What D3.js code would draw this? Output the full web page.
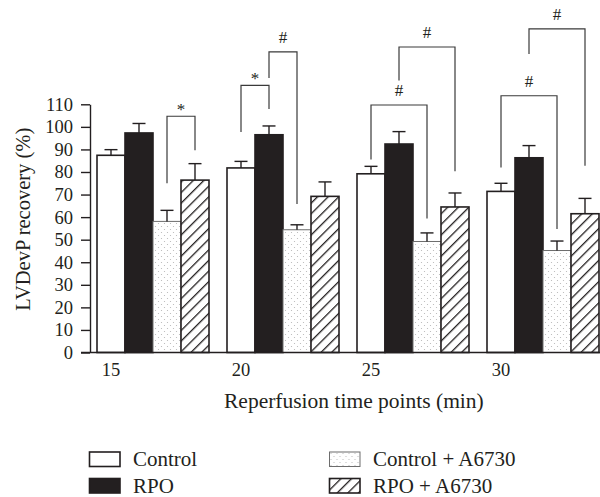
<!DOCTYPE html>
<html>
<head>
<meta charset="utf-8">
<script src="https://cdn.jsdelivr.net/npm/d3@7"></script>
<style>
  body { margin: 0; background: #fff; }
  svg { display: block; font-family: "Liberation Serif", "DejaVu Serif", serif; }
</style>
</head>
<body>
<div id="chart"></div>
<script>
// time points (min) and series
const timePoints = ["15", "20", "25", "30"];
const seriesNames = ["Control", "RPO", "Control + A6730", "RPO + A6730"];

// LVDevP recovery (%), mean and upper error (SEM)
const controlVals = [87.4, 81.8, 79.2, 71.4];
const rpoVals = [97.3, 96.5, 92.4, 86.3];
const controlA6730Vals = [58.1, 54.4, 49.2, 45.2];
const rpoA6730Vals = [76.4, 69.2, 64.5, 61.5];

const controlErr = [2.5, 2.9, 3.3, 3.6];
const rpoErr = [4.2, 3.9, 5.5, 5.4];
const controlA6730Err = [4.9, 2.2, 3.8, 4.2];
const rpoA6730Err = [7.3, 6.4, 6.2, 6.8];

const yTicks = [0, 10, 20, 30, 40, 50, 60, 70, 80, 90, 100, 110];

// significance brackets: time point, from series, to series, top, left leg end, right leg end (in % units)
const brackets = [
  { t: "15", a: 2, b: 3, top: 104.7, endA: 75.0, endB: 89.6, label: "*" },
  { t: "20", a: 0, b: 1, top: 118.4, endA: 97.7, endB: 107.9, label: "*" },
  { t: "20", a: 1, b: 2, top: 133.2, endA: 121.7, endB: 65.8, label: "#" },
  { t: "25", a: 0, b: 2, top: 109.7, endA: 85.5, endB: 59.4, label: "#" },
  { t: "25", a: 1, b: 3, top: 135.4, endA: 120.5, endB: 80.3, label: "#" },
  { t: "30", a: 0, b: 2, top: 113.8, endA: 82.0, endB: 54.7, label: "#" },
  { t: "30", a: 1, b: 3, top: 143.4, endA: 132.3, endB: 82.8, label: "#" }
];

const allVals = [controlVals, rpoVals, controlA6730Vals, rpoA6730Vals];
const allErr = [controlErr, rpoErr, controlA6730Err, rpoA6730Err];

const ink = "#231f20";
const fills = ["#fff", ink, "url(#dots)", "url(#hatch)"];
const strokes = [ink, ink, "#6d6d6d", ink];

const W = 600, H = 497;

const svg = d3.select("#chart")
  .append("svg")
  .attr("width", W)
  .attr("height", H);

// patterns
const defs = svg.append("defs");
const dots = defs.append("pattern")
  .attr("id", "dots")
  .attr("patternUnits", "userSpaceOnUse")
  .attr("width", 6)
  .attr("height", 6);
dots.append("rect").attr("width", 6).attr("height", 6).attr("fill", "#fff");
dots.append("circle").attr("cx", 1.5).attr("cy", 1.5).attr("r", 0.6).attr("fill", "#b5b5b5");
dots.append("circle").attr("cx", 4.5).attr("cy", 4.5).attr("r", 0.6).attr("fill", "#b5b5b5");

const hatch = defs.append("pattern")
  .attr("id", "hatch")
  .attr("patternUnits", "userSpaceOnUse")
  .attr("width", 7.5)
  .attr("height", 7.5)
  .attr("patternTransform", "rotate(45)");
hatch.append("rect").attr("width", 7.5).attr("height", 7.5).attr("fill", "#fff");
hatch.append("line")
  .attr("x1", 0).attr("y1", 0).attr("x2", 0).attr("y2", 7.5)
  .attr("stroke", ink).attr("stroke-width", 2.6);

// scales
const x0 = d3.scaleBand()
  .domain(timePoints)
  .range([97, 599])
  .paddingInner(18 / 130)
  .paddingOuter(0);

const x1 = d3.scaleBand()
  .domain(d3.range(seriesNames.length))
  .range([0, x0.bandwidth()]);

const y = d3.scaleLinear()
  .domain([0, 110])
  .range([352.5, 104.3]);

// y axis
const yAxis = svg.append("g")
  .attr("transform", "translate(90,0)")
  .call(d3.axisLeft(y).tickValues(yTicks).tickSize(9).tickPadding(8).tickSizeOuter(0));
yAxis.select(".domain").attr("stroke", ink).attr("stroke-width", 1.4);
yAxis.selectAll(".tick line").attr("stroke", ink).attr("stroke-width", 1.4);
yAxis.selectAll(".tick text")
  .attr("fill", ink)
  .style("font-family", "'Liberation Serif', serif")
  .style("font-size", "18.5px");

// bars
const groups = svg.append("g")
  .selectAll("g")
  .data(timePoints)
  .join("g")
  .attr("transform", d => `translate(${x0(d)},0)`);

groups.selectAll("rect")
  .data((t, i) => allVals.map((v, s) => ({ s, v: v[i], e: allErr[s][i] })))
  .join("rect")
  .attr("x", d => x1(d.s))
  .attr("y", d => y(d.v))
  .attr("width", x1.bandwidth())
  .attr("height", d => y(0) - y(d.v))
  .attr("fill", d => fills[d.s])
  .attr("stroke", d => strokes[d.s])
  .attr("stroke-width", d => d.s === 2 ? 1 : 1.6);

// error bars (upper only)
const errs = groups.selectAll("g.err")
  .data((t, i) => allVals.map((v, s) => ({ s, v: v[i], e: allErr[s][i] })))
  .join("g")
  .attr("class", "err")
  .attr("stroke", ink)
  .attr("stroke-width", 1.4);
errs.append("line")
  .attr("x1", d => x1(d.s) + x1.bandwidth() / 2)
  .attr("x2", d => x1(d.s) + x1.bandwidth() / 2)
  .attr("y1", d => y(d.v))
  .attr("y2", d => y(d.v + d.e));
errs.append("line")
  .attr("x1", d => x1(d.s) + x1.bandwidth() / 2 - 6.5)
  .attr("x2", d => x1(d.s) + x1.bandwidth() / 2 + 6.5)
  .attr("y1", d => y(d.v + d.e))
  .attr("y2", d => y(d.v + d.e));

// x axis line
svg.append("line")
  .attr("x1", 81).attr("x2", W)
  .attr("y1", y(0)).attr("y2", y(0))
  .attr("stroke", ink).attr("stroke-width", 1.4);

// x tick labels, under the first bar of each group
svg.append("g")
  .selectAll("text")
  .data(timePoints)
  .join("text")
  .attr("x", d => x0(d) + x1(0) + x1.bandwidth() / 2)
  .attr("y", 376)
  .attr("text-anchor", "middle")
  .attr("fill", ink)
  .style("font-size", "18.5px")
  .text(d => d);

// significance brackets
const barCenter = (t, s) => x0(t) + x1(s) + x1.bandwidth() / 2;
const br = svg.append("g")
  .selectAll("g")
  .data(brackets)
  .join("g");
br.append("path")
  .attr("d", d => {
    const xa = barCenter(d.t, d.a), xb = barCenter(d.t, d.b);
    return `M${xa},${y(d.endA)}V${y(d.top)}H${xb}V${y(d.endB)}`;
  })
  .attr("fill", "none")
  .attr("stroke", "#3a3a3a")
  .attr("stroke-width", 1.2);
br.append("text")
  .attr("x", d => (barCenter(d.t, d.a) + barCenter(d.t, d.b)) / 2)
  .attr("y", d => y(d.top) - (d.label === "#" ? 9 : 1))
  .attr("text-anchor", "middle")
  .attr("fill", ink)
  .style("font-size", "17px")
  .text(d => d.label);

// axis titles
svg.append("text")
  .attr("transform", "translate(30,310.7) rotate(-90)")
  .attr("text-anchor", "start")
  .attr("fill", ink)
  .style("font-size", "20.5px")
  .text("LVDevP recovery (%)");

svg.append("text")
  .attr("x", 224)
  .attr("y", 407.5)
  .attr("fill", ink)
  .style("font-size", "21.5px")
  .text("Reperfusion time points (min)");

// legend: two columns, two rows
const legendPos = [
  { x: 89.5, y: 452 }, { x: 89.5, y: 478.5 },
  { x: 329.5, y: 452 }, { x: 329.5, y: 478.5 }
];
const legend = svg.append("g")
  .selectAll("g")
  .data(seriesNames)
  .join("g")
  .attr("transform", (d, i) => `translate(${legendPos[i].x},${legendPos[i].y})`);
legend.append("rect")
  .attr("width", 30.5)
  .attr("height", 14.5)
  .attr("fill", (d, i) => fills[i])
  .attr("stroke", (d, i) => strokes[i])
  .attr("stroke-width", (d, i) => i === 2 ? 1 : 1.6);
legend.append("text")
  .attr("x", 43.5)
  .attr("y", 14)
  .attr("fill", ink)
  .style("font-size", "21px")
  .text(d => d);
</script>
</body>
</html>
